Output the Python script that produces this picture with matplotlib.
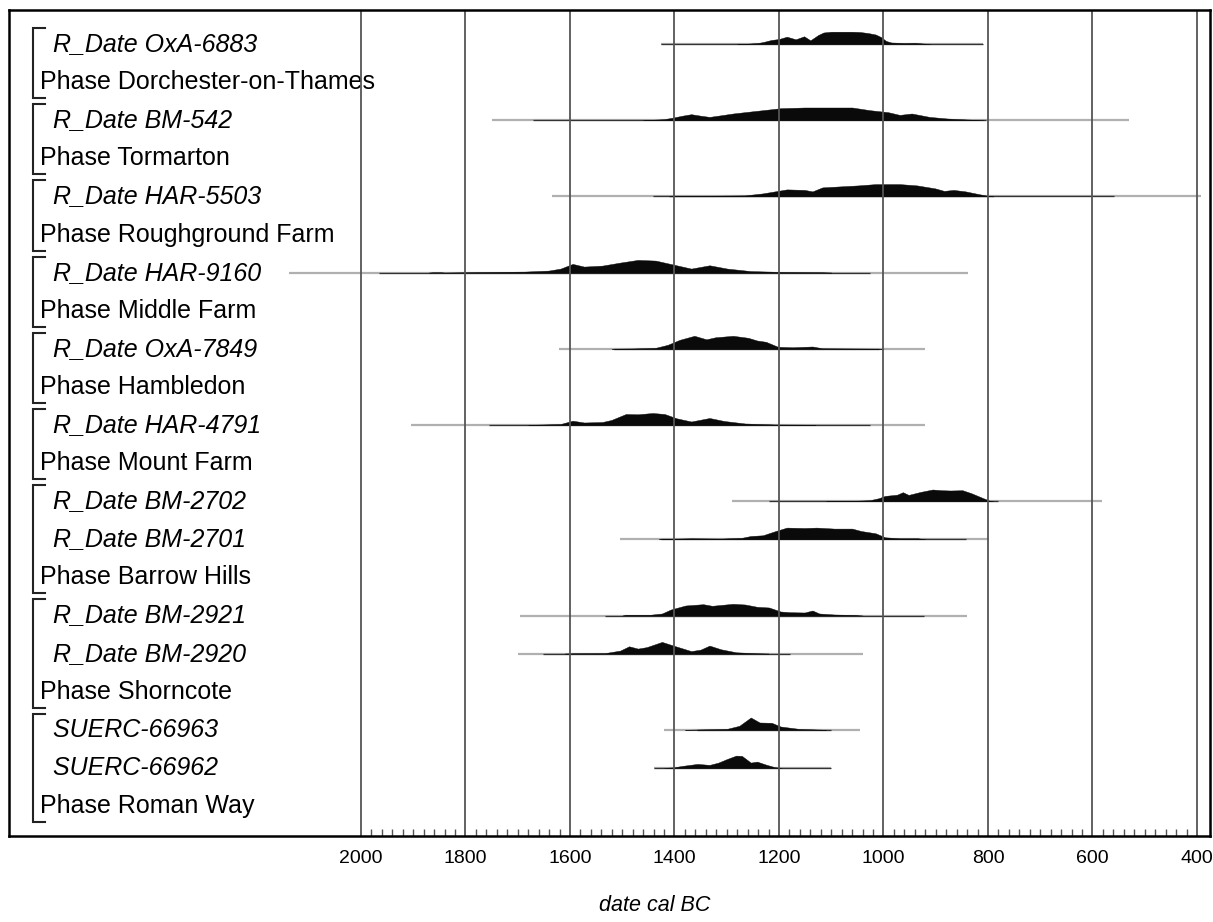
import matplotlib
matplotlib.use('Agg')
import matplotlib.pyplot as plt
from matplotlib.transforms import blended_transform_factory
from matplotlib.ticker import FixedLocator

plt.rcParams['font.family'] = ['Liberation Sans', 'DejaVu Sans']

# ---------------- data ----------------
row_labels = [
    " R_Date OxA-6883", "Phase Dorchester-on-Thames",
    " R_Date BM-542", "Phase Tormarton",
    " R_Date HAR-5503", "Phase Roughground Farm",
    " R_Date HAR-9160", "Phase Middle Farm",
    " R_Date OxA-7849", "Phase Hambledon",
    " R_Date HAR-4791", "Phase Mount Farm",
    " R_Date BM-2702", " R_Date BM-2701", "Phase Barrow Hills",
    " R_Date BM-2921", " R_Date BM-2920", "Phase Shorncote",
    " SUERC-66963", " SUERC-66962", "Phase Roman Way",
]
row_italic = [not s.startswith("Phase") for s in row_labels]
groups = [(0, 1), (2, 3), (4, 5), (6, 7), (8, 9), (10, 11), (12, 14), (15, 17), (18, 20)]

tick_years = [2000, 1800, 1600, 1400, 1200, 1000, 800, 600, 400]

# probability distributions (year cal BC, relative density)
oxa6883_years = [1280, 1260, 1240, 1230, 1215, 1200, 1185, 1168, 1152, 1140, 1125, 1115, 1100, 1080, 1060, 1045, 1030, 1015, 1005, 995, 985, 960, 940, 925, 910]
oxa6883_dens = [0, 0.3, 1, 2, 4, 5, 7.3, 4.7, 7.7, 3.7, 9, 11.5, 12.3, 12.3, 12.3, 12, 11, 9.5, 7, 3, 1.5, 1, 1.2, 0.5, 0]

bm542_years = [1460, 1447, 1420, 1402, 1385, 1368, 1350, 1333, 1310, 1288, 1254, 1219, 1197, 1151, 1100, 1060, 1026, 991, 969, 946, 912, 878, 840, 809]
bm542_dens = [0, 0.3, 1, 2.7, 4.5, 6, 4.5, 3.3, 5, 6.7, 8.7, 10.7, 12, 12.7, 12.7, 12.7, 10, 8, 5.3, 6.7, 3.3, 1.7, 0.7, 0]

har5503_years = [1410, 1402, 1356, 1265, 1231, 1208, 1185, 1151, 1136, 1117, 1083, 1048, 1015, 969, 936, 901, 884, 866, 843, 815, 797, 790]
har5503_dens = [0, 0.3, 0.5, 1, 3, 5, 7, 6.5, 5, 9, 10, 11, 12.3, 12.3, 11, 8, 5.5, 6.5, 5, 2, 0.3, 0]

har9160_years = [1870, 1863, 1846, 1840, 1778, 1687, 1641, 1618, 1595, 1573, 1538, 1504, 1470, 1436, 1402, 1368, 1333, 1299, 1254, 1197, 1117, 1100]
har9160_dens = [0, 0.3, 0.3, 0, 0.5, 1, 2, 4, 8.7, 6, 7, 10, 12.7, 12, 8, 4, 7.3, 4, 1.5, 0.7, 0.3, 0]

oxa7849_years = [1520, 1480, 1436, 1413, 1390, 1362, 1339, 1322, 1288, 1259, 1242, 1225, 1202, 1174, 1136, 1117, 1060, 1000]
oxa7849_dens = [0, 0.3, 1, 4, 9, 13, 9.5, 11.5, 13, 11, 8.3, 7, 2, 1.5, 2.3, 0.5, 0.3, 0]

har4791_years = [1680, 1664, 1618, 1595, 1573, 1538, 1521, 1493, 1470, 1442, 1419, 1396, 1368, 1333, 1305, 1265, 1208, 1151, 1130]
har4791_dens = [0, 0.3, 1, 4.3, 2.5, 3, 5, 11, 10.7, 12, 11, 6.7, 3.5, 7, 4, 1.5, 0.5, 0.3, 0]

bm2702_years = [1110, 1060, 1026, 1009, 997, 974, 963, 952, 929, 906, 889, 872, 849, 832, 809, 797, 790]
bm2702_dens = [0, 0.3, 1, 3, 5.3, 6.5, 9, 6.3, 9.3, 11.7, 11, 10.7, 11, 8, 3, 0.5, 0]

bm2701_years = [1430, 1425, 1368, 1311, 1271, 1254, 1231, 1208, 1185, 1151, 1128, 1094, 1060, 1043, 1015, 997, 969, 934, 920]
bm2701_dens = [0, 0.3, 1, 0.7, 1.5, 3.3, 4, 8, 11.7, 11.3, 11.7, 10.7, 10.7, 8.3, 6, 2, 1, 1, 0]

bm2921_years = [1500, 1493, 1447, 1424, 1407, 1379, 1345, 1328, 1288, 1265, 1242, 1219, 1197, 1179, 1151, 1136, 1123, 1094, 1054, 1040]
bm2921_dens = [0, 0.7, 0.7, 2, 6, 10, 11.3, 9.7, 11.7, 11, 8.7, 8, 4, 3.3, 3, 5, 2, 1, 0.5, 0]

bm2920_years = [1610, 1595, 1533, 1504, 1487, 1470, 1453, 1424, 1402, 1368, 1350, 1333, 1311, 1282, 1242, 1220]
bm2920_dens = [0, 0.3, 0.5, 3, 7.3, 5, 6.5, 11.7, 8, 2.5, 4, 8, 4.3, 1.3, 0.3, 0]

suerc66963_years = [1380, 1356, 1299, 1276, 1254, 1237, 1214, 1197, 1163, 1128, 1110]
suerc66963_dens = [0, 0.3, 1, 4, 12.3, 7.3, 7, 3.3, 1, 0.3, 0]

suerc66962_years = [1420, 1402, 1385, 1356, 1333, 1316, 1299, 1282, 1271, 1254, 1242, 1225, 1208, 1195]
suerc66962_dens = [0, 0.5, 2, 4, 3, 5.3, 9, 12.3, 12, 5.3, 6.3, 3.3, 0.7, 0]

dist_rows = [0, 2, 4, 6, 8, 10, 12, 13, 15, 16, 18, 19]
dist_years = [oxa6883_years, bm542_years, har5503_years, har9160_years, oxa7849_years, har4791_years,
              bm2702_years, bm2701_years, bm2921_years, bm2920_years, suerc66963_years, suerc66962_years]
dist_dens = [oxa6883_dens, bm542_dens, har5503_dens, har9160_dens, oxa7849_dens, har4791_dens,
             bm2702_dens, bm2701_dens, bm2921_dens, bm2920_dens, suerc66963_dens, suerc66962_dens]

# range lines (outer = light, inner = dark)
outer_from = [1425, 1749, 1635, 2137, 1621, 1905, 1290, 1504, 1695, 1700, 1421, 1440]
outer_to = [809, 530, 393, 838, 920, 920, 581, 798, 840, 1040, 1045, 1100]
inner_from = [1425, 1670, 1442, 1966, 1516, 1755, 1219, 1425, 1533, 1652, 1356, 1440]
inner_to = [809, 803, 558, 1026, 1009, 1026, 781, 843, 923, 1179, 1100, 1100]

# ---------------- figure ----------------
W, H = 1213, 922
fig = plt.figure(figsize=(W / 100, H / 100), dpi=100)
ax_left, ax_right, ax_top, ax_bot = 9, 1210, 10, 836
ax = fig.add_axes([ax_left / W, 1 - ax_bot / H, (ax_right - ax_left) / W, (ax_bot - ax_top) / H])

px_per_row = 38.1
row0_px = 44
ax.set_ylim((ax_bot - row0_px) / px_per_row, (ax_top - row0_px) / px_per_row)
px_per_year = (1197 - 361) / 1600
ax.set_xlim(2000 + (361 - ax_left) / px_per_year, 400 - (ax_right - 1197) / px_per_year)

# grid lines
ylo, yhi = ax.get_ylim()
ax.vlines(tick_years, yhi, ylo, color='#555555', lw=1.3, zorder=7)

# distributions
scale = 1 / px_per_row
for r, yrs, dens, of, ot, inf, it in zip(dist_rows, dist_years, dist_dens, outer_from, outer_to, inner_from, inner_to):
    ax.plot([of, ot], [r, r], color='#b0b0b0', lw=1.6, zorder=2, solid_capstyle='butt')
    ax.plot([inf, it], [r, r], color='#333333', lw=0.9, zorder=3, solid_capstyle='butt')
    ax.fill_between(yrs, [r] * len(yrs), [r - d * scale for d in dens], color='#0a0a0a', lw=0.3,
                    edgecolor='#0a0a0a', zorder=4)

# labels
trans = blended_transform_factory(ax.transAxes, ax.transData)
x_phase = (40 - ax_left) / (ax_right - ax_left)
x_item = (46 - ax_left) / (ax_right - ax_left)
for i, (lab, it) in enumerate(zip(row_labels, row_italic)):
    ax.text(x_item if it else x_phase, i, lab, transform=trans, va='center', ha='left',
            fontsize=18, style='italic' if it else 'normal', color='black', zorder=6)

# brackets
xb0 = (33 - ax_left) / (ax_right - ax_left)
xb1 = (45 - ax_left) / (ax_right - ax_left)
for a, b in groups:
    ya, yb = a - 0.42, b + 0.42
    ax.plot([xb1, xb0, xb0, xb1], [ya, ya, yb, yb], transform=trans, color='#222222', lw=1.5, zorder=6,
            solid_joinstyle='miter')

# axes styling
for s in ax.spines.values():
    s.set_linewidth(1.8)
    s.set_color('black')
    s.set_zorder(8)
ax.set_yticks([])
ax.xaxis.set_major_locator(FixedLocator(tick_years))
ax.set_xticklabels([str(t) for t in tick_years], fontsize=14)
minor = [y for y in range(400, 2001, 20) if y % 200 != 0]
ax.xaxis.set_minor_locator(FixedLocator(minor))
ax.tick_params(axis='x', which='major', length=0, pad=10)
ax.tick_params(axis='x', which='minor', direction='in', length=5, width=1, color='#555555')

fig.text(655 / W, 1 - 905 / H, 'date cal BC', fontsize=15.5, style='italic', ha='center', va='center')

fig.savefig('out.png', dpi=100)
